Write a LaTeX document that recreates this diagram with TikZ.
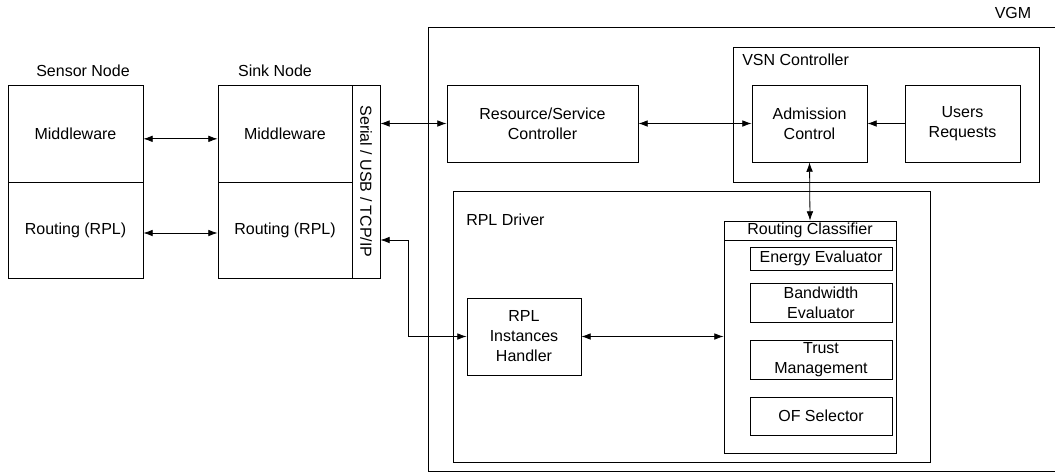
\documentclass[tikz,border=0pt]{standalone}
\usepackage{fontspec}
\setmainfont{Liberation Sans}
\usepackage{tikz}
\usetikzlibrary{positioning, fit, shapes}
\usetikzlibrary{arrows.meta}
\tikzstyle{bloc}=[rectangle, draw=black, line width=0.6pt, align=center, inner sep=2pt, minimum width=#1]
\tikzstyle{fleche}=[line width=0.6pt, {Latex[length=7pt,width=5pt]}-{Latex[length=7pt,width=5pt]}]
\tikzstyle{simple}=[line width=0.6pt, -{Latex[length=7pt,width=5pt]}]

\begin{document}
\begin{tikzpicture}[x=0.75pt, y=-0.75pt, font=\fontsize{12}{15}\selectfont]
        \useasboundingbox (0,0) rectangle (1055,475);

        % Les conteneurs
        \node[bloc=471pt, minimum height=333pt] (vgm) at (742,249) {};
        \node (vgmlbl) at (1013,13) {VGM};
        \node[bloc=229.5pt, minimum height=101.25pt] (vsn) at (886,114.5) {};
        \node[anchor=west, inner sep=0pt] (vsnlbl) at (742,60) {VSN Controller};
        \node[bloc=357.75pt, minimum height=203.25pt] (drv) at (691.5,326.5) {};
        \node[anchor=west, inner sep=0pt] (drvlbl) at (466,220) {RPL Driver};

        % Les noeuds
        \node (sensorlbl) at (83,71) {Sensor Node};
        \node (sinklbl) at (275,71) {Sink Node};
        \node[bloc=101.25pt, minimum height=72.75pt] (sensMid) at (75.5,133.5) {Middleware};
        \node[bloc=101.25pt, minimum height=72pt] (sensRout) at (75.5,230) {Routing (RPL)};
        \node[bloc=100.5pt, minimum height=72.75pt] (sinkMid) at (285,133.5) {Middleware};
        \node[bloc=100.5pt, minimum height=72pt] (sinkRout) at (285,230) {Routing (RPL)};
        \node[bloc=21pt, minimum height=144.75pt] (serial) at (366,181.5) {};
        \node[rotate=-90, inner sep=0pt] (seriallbl) at (serial.center) {Serial / USB / TCP/IP};

        \node[bloc=143.25pt, minimum height=57.75pt] (resCtrl) at (542.5,123.5) {Resource/Service\\Controller};
        \node[bloc=86.25pt, minimum height=57.75pt] (admCtrl) at (809.5,123.5) {Admission\\Control};
        \node[bloc=86.25pt, minimum height=57.75pt] (usrReq) at (962.5,123.5) {Users\\Requests};

        \node[bloc=85.5pt, minimum height=57.75pt] (rplInst) at (524,336.5) {RPL\\Instances\\Handler};
        \node[bloc=129pt, minimum height=174pt] (classif) at (810,337) {};
        \node[bloc=129pt, minimum height=14.25pt, inner sep=0pt] (classHead) at (810,230.5) {Routing Classifier};
        \node[bloc=106.5pt, minimum height=17.25pt, inner sep=0pt] (energy) at (821,258.5) {Energy Evaluator};
        \node[bloc=106.5pt, minimum height=29.25pt, inner sep=0pt] (bandw) at (821,302.5) {Bandwidth\\Evaluator};
        \node[bloc=106.5pt, minimum height=29.25pt, inner sep=0pt] (trust) at (821,359.5) {Trust\\Management};
        \node[bloc=106.5pt, minimum height=28.5pt, inner sep=0pt] (ofSel) at (821,416) {OF Selector};

        \coordinate (coude) at (408,240);

        % Les fleches
        \draw[fleche] ([yshift=-4pt]sensMid.east) -- ([yshift=-4pt]sinkMid.west);
        \draw[fleche] ([yshift=-2.25pt]sensRout.east) -- ([yshift=-2.25pt]sinkRout.west);
        \draw[fleche] (resCtrl.west -| serial.east) -- (resCtrl.west);
        \draw[fleche] (coude -| serial.east) -- (coude) |- (rplInst.west);
        \draw[fleche] (resCtrl.east) -- (admCtrl.west);
        \draw[simple] (usrReq.west) -- (admCtrl.east);
        \draw[fleche] (admCtrl.south) -- (classHead.north);
        \draw[fleche] (rplInst.east) -- (rplInst.east -| classif.west);
    \end{tikzpicture}
\end{document}
